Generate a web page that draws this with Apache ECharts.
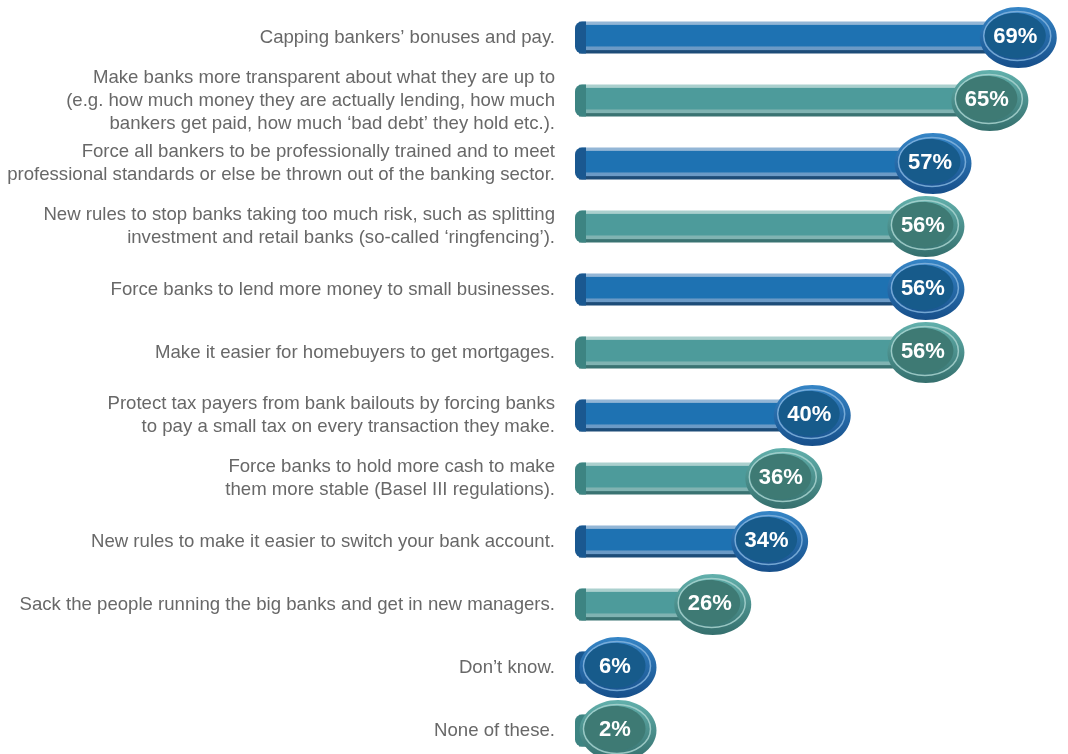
<!DOCTYPE html>
<html>
<head>
<meta charset="utf-8">
<script src="https://cdn.jsdelivr.net/npm/echarts@6/dist/echarts.min.js"></script>
<style>
  html, body { margin: 0; padding: 0; background: #fff; }
  #chartBox { width: 1068px; height: 754px; }
</style>
</head>
<body>
<div id="chartBox"></div>
<script>
// 分类（从上到下）
var categories = [
  "Capping bankers’ bonuses and pay.",
  "Make banks more transparent about what they are up to\n(e.g. how much money they are actually lending, how much\nbankers get paid, how much ‘bad debt’ they hold etc.).",
  "Force all bankers to be professionally trained and to meet\nprofessional standards or else be thrown out of the banking sector.",
  "New rules to stop banks taking too much risk, such as splitting\ninvestment and retail banks (so-called ‘ringfencing’).",
  "Force banks to lend more money to small businesses.",
  "Make it easier for homebuyers to get mortgages.",
  "Protect tax payers from bank bailouts by forcing banks\nto pay a small tax on every transaction they make.",
  "Force banks to hold more cash to make\nthem more stable (Basel III regulations).",
  "New rules to make it easier to switch your bank account.",
  "Sack the people running the big banks and get in new managers.",
  "Don’t know.",
  "None of these."
];
// 百分比
var values = [69, 65, 57, 56, 56, 56, 40, 36, 34, 26, 6, 2];

var seriesData = [];
for (var i = 0; i < values.length; i++) {
  seriesData.push([values[i], i]);
}

// 蓝色 / 青色 两套配色
var palettes = [
  {
    top: "#93b6d6", main: "#1e72b2", stripe: "#6b9ac6", edge: "#1d4c78", cap: "#1a5890",
    outerTop: "#3585c6", outerBottom: "#174f8a", inner: "#175b8b", rim: "#84b4de"
  },
  {
    top: "#abd0ce", main: "#4d9b9b", stripe: "#80b3b2", edge: "#3a7372", cap: "#3d8482",
    outerTop: "#62b0ac", outerBottom: "#356f6d", inner: "#3e7a74", rim: "#a9d4d0"
  }
];

var BAR_INSET = 47;   // 条形起点相对 0 刻度的像素偏移
var BAR_H = 32;
var RX = 38.5, RY = 30.5;

function renderItem(params, api) {
  var v = api.value(0);
  var idx = api.value(1);
  var p = api.coord([v, idx]);
  var base = api.coord([0, idx]);
  var x0 = base[0] + BAR_INSET;
  var cx = Math.max(p[0], x0 + 43);
  var cy = p[1];
  var c = palettes[idx % 2];

  return {
    type: "group",
    children: [
      {
        type: "rect",
        shape: { x: x0 + 4, y: cy - BAR_H / 2, width: cx - x0 - 4, height: BAR_H },
        style: {
          fill: new echarts.graphic.LinearGradient(0, 0, 0, 1, [
            { offset: 0, color: c.top },
            { offset: 0.09, color: c.top },
            { offset: 0.12, color: c.main },
            { offset: 0.76, color: c.main },
            { offset: 0.8, color: c.stripe },
            { offset: 0.88, color: c.stripe },
            { offset: 0.91, color: c.edge },
            { offset: 1, color: c.edge }
          ])
        }
      },
      {
        type: "rect",
        shape: { x: x0, y: cy - BAR_H / 2, width: 11, height: BAR_H, r: [7, 0, 0, 7] },
        style: { fill: c.cap }
      },
      {
        type: "ellipse",
        shape: { cx: cx, cy: cy, rx: RX, ry: RY },
        style: {
          fill: new echarts.graphic.LinearGradient(0, 0, 0, 1, [
            { offset: 0, color: c.outerTop },
            { offset: 1, color: c.outerBottom }
          ])
        }
      },
      {
        type: "ellipse",
        shape: { cx: cx - 1, cy: cy - 1.5, rx: RX - 5, ry: RY - 6 },
        style: { fill: "none", stroke: c.rim, lineWidth: 1.5, opacity: 0.85 }
      },
      {
        type: "ellipse",
        shape: { cx: cx - 3, cy: cy - 2, rx: RX - 8, ry: RY - 8 },
        style: { fill: c.inner }
      },
      {
        type: "text",
        x: cx - 3,
        y: cy - 1,
        style: {
          text: v + "%",
          fill: "#ffffff",
          font: "bold 22px 'Liberation Sans', Arial, sans-serif",
          align: "center",
          verticalAlign: "middle"
        }
      }
    ]
  };
}

var chart = echarts.init(document.getElementById("chartBox"));

var option = {
  animation: false,
  grid: { left: 528, top: 6, width: 540, height: 756, outerBoundsMode: "none" },
  xAxis: {
    type: "value",
    min: 0,
    max: 76,
    show: false
  },
  yAxis: {
    type: "category",
    inverse: true,
    data: categories,
    axisLine: { show: false },
    axisTick: { show: false },
    splitLine: { show: false },
    axisLabel: {
      margin: -27,
      color: "#686868",
      fontSize: 18.6,
      lineHeight: 23,
      fontFamily: "'Liberation Sans', Arial, sans-serif"
    }
  },
  series: [
    {
      type: "custom",
      renderItem: renderItem,
      data: seriesData,
      encode: { x: 0, y: 1 },
      clip: false
    }
  ]
};

chart.setOption(option);
</script>
</body>
</html>
